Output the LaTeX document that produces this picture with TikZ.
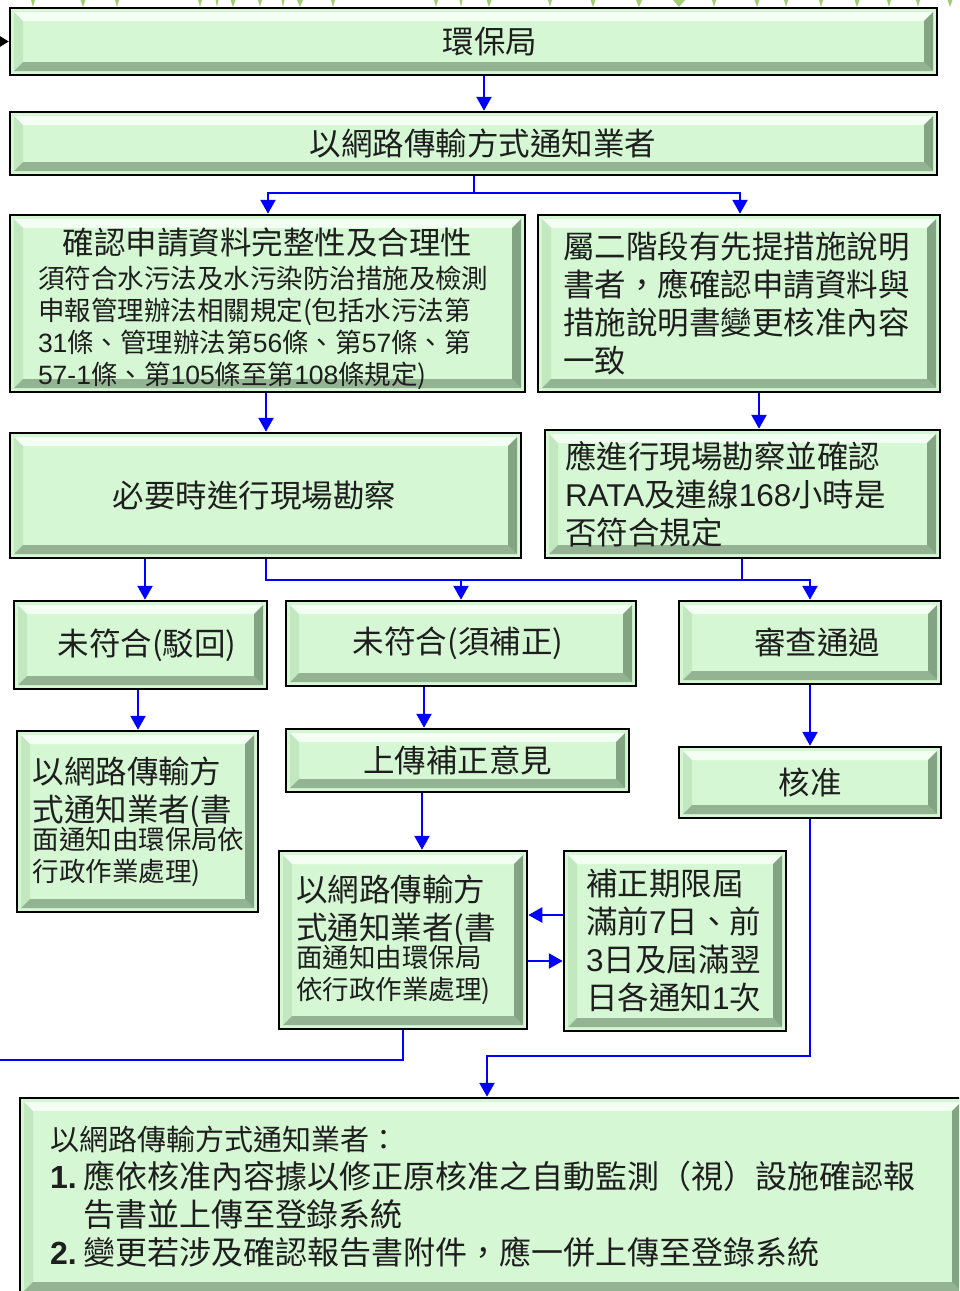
\documentclass[tikz,border=0pt]{standalone}
\usepackage{fontspec}
\setmainfont{Noto Sans CJK TC}
\newfontfamily\latf{Liberation Sans}
\usetikzlibrary{arrows.meta,calc}
\definecolor{faceg}{HTML}{D5F7D3}
\definecolor{topg}{HTML}{F2FFF2}
\definecolor{leftg}{HTML}{C2E8C0}
\definecolor{botg}{HTML}{93B393}
\definecolor{rightg}{HTML}{82A482}
\definecolor{lineb}{HTML}{0000FF}
\definecolor{txt}{HTML}{1E1E1E}
\definecolor{grass}{HTML}{8CC152}
\newcommand\numf[1]{{\latf #1}}
\newcommand\smf{\fontsize{26.5}{32}\selectfont}
\tikzset{
  bev/.style={draw=black, line width=2.5pt, fill=faceg, inner sep=0pt, text=txt,
    font=\fontsize{31.5}{38}\selectfont,
    path picture={
      \fill[topg] ([xshift=4pt,yshift=-4pt]path picture bounding box.north west) -- ([xshift=-4pt,yshift=-4pt]path picture bounding box.north east) -- ([xshift=-13pt,yshift=-13pt]path picture bounding box.north east) -- ([xshift=13pt,yshift=-13pt]path picture bounding box.north west) -- cycle;
      \fill[leftg] ([xshift=4pt,yshift=-4pt]path picture bounding box.north west) -- ([xshift=13pt,yshift=-13pt]path picture bounding box.north west) -- ([xshift=13pt,yshift=13pt]path picture bounding box.south west) -- ([xshift=4pt,yshift=4pt]path picture bounding box.south west) -- cycle;
      \fill[botg] ([xshift=4pt,yshift=4pt]path picture bounding box.south west) -- ([xshift=-4pt,yshift=4pt]path picture bounding box.south east) -- ([xshift=-13pt,yshift=13pt]path picture bounding box.south east) -- ([xshift=13pt,yshift=13pt]path picture bounding box.south west) -- cycle;
      \fill[rightg] ([xshift=-4pt,yshift=-4pt]path picture bounding box.north east) -- ([xshift=-4pt,yshift=4pt]path picture bounding box.south east) -- ([xshift=-13pt,yshift=13pt]path picture bounding box.south east) -- ([xshift=-13pt,yshift=-13pt]path picture bounding box.north east) -- cycle;
    }},
  wire/.style={draw=lineb, line width=2.5pt},
  conn/.style={wire, -{Triangle[width=15pt,length=14pt]}},
  blk/.style={draw=black, line width=2pt, -{Triangle[width=13pt,length=11pt]}},
  spike/.style={fill=grass, opacity=0.8}
}
\begin{document}
\begin{tikzpicture}[x=1pt,y=-1pt]
\useasboundingbox (0,0) rectangle (959,1291);
\clip (0,0) rectangle (959,1291);
\fill[white] (0,0) rectangle (959,1291);
% grass at the top edge
\foreach \gx/\gw in {33/4,83/5,117/4,200/4,217/3,233/5,260/4,283/3,300/6,333/4,436/4,461/3,489/5,550/4,593/5,639/6,679/12,714/4,757/5,786/4,821/4,857/5,889/4,918/4,950/5}
  \fill[spike] (\gx-\gw/2,0) -- (\gx+\gw/2,0) -- (\gx,7) -- cycle;

% boxes
\node[bev, minimum width=927pt, minimum height=67pt] (n1) at (473.5,41.5) {\hspace*{33pt}環保局};
\node[bev, minimum width=927pt, minimum height=63pt] (n2) at (473.5,143.5) {\hspace*{19pt}以網路傳輸方式通知業者};
\node[bev, minimum width=515pt, minimum height=177pt, text width=459pt, align=left, font=\smf] (n3) at (267.5,303.5)
  {\makebox[459pt][c]{\fontsize{31.5}{32}\selectfont\rule{0pt}{38pt}確認申請資料完整性及合理性}\\[2pt]
   須符合水污法及水污染防治措施及檢測\\
   申報管理辦法相關規定(包括水污法第\\
   \numf{31}條、管理辦法第\numf{56}條、第\numf{57}條、第\\
   \numf{57-1}條、第\numf{105}條至第\numf{108}條規定)};
\node[bev, minimum width=402pt, minimum height=177pt, text width=352pt, align=left] (n4) at (739,303.5)
  {屬二階段有先提措施說明\\書者，應確認申請資料與\\措施說明書變更核准內容\\一致};
\node[bev, minimum width=511pt, minimum height=125pt] (n5) at (265.5,495.5) {必要時進行現場勘察\hspace*{22pt}};
\node[bev, minimum width=395pt, minimum height=128pt, text width=355pt, align=left] (n6) at (742.5,494)
  {應進行現場勘察並確認\\\numf{RATA}及連線\numf{168}小時是\\否符合規定};
\node[bev, minimum width=253pt, minimum height=88pt] (n7) at (140.5,645) {\hspace*{13pt}未符合(駁回)};
\node[bev, minimum width=350pt, minimum height=85pt] (n8) at (461,643.5) {未符合(須補正)\hspace*{6pt}};
\node[bev, minimum width=262pt, minimum height=83pt] (n9) at (810,642.5) {\hspace*{14pt}審查通過};
\node[bev, minimum width=241pt, minimum height=181pt, text width=210pt, align=left] (n10) at (137.5,821.5)
  {以網路傳輸方\\式通知業者(書\\[-4pt]{\smf 面通知由環保局依\\[-6pt]行政作業處理)}};
\node[bev, minimum width=343pt, minimum height=63pt] (n11) at (457.5,760.5) {上傳補正意見};
\node[bev, minimum width=262pt, minimum height=71pt] (n12) at (810,782.5) {核准};
\node[bev, minimum width=248pt, minimum height=178pt, text width=214pt, align=left] (n13) at (403,940)
  {以網路傳輸方\\式通知業者(書\\[-4pt]{\smf 面通知由環保局\\[-6pt]依行政作業處理)}};
\node[bev, minimum width=222pt, minimum height=180pt, text width=178pt, align=left] (n14) at (675,941)
  {補正期限屆\\滿前\numf{7}日、前\\\numf{3}日及屆滿翌\\日各通知\numf{1}次};
\node[bev, minimum width=945pt, minimum height=197pt, text width=885pt, align=left, font=\fontsize{32}{38}\selectfont] (n15) at (492.5,1196.5)
  {{\fontsize{29}{38}\selectfont 以網路傳輸方式通知業者：}\\
   \numf{\bfseries 1.}\hspace{7pt}應依核准內容據以修正原核准之自動監測（視）設施確認報\\
   \hspace*{33pt}告書並上傳至登錄系統\\
   \numf{\bfseries 2.}\hspace{7pt}變更若涉及確認報告書附件，應一併上傳至登錄系統};

% helper coordinates
\coordinate (lin) at (-20,41.5);
\coordinate (k484) at (484,0);
\coordinate (j1) at (474,193);
\coordinate (k268) at (268,0);
\coordinate (k740) at (740,0);
\coordinate (k266) at (266,0);
\coordinate (k759) at (759,0);
\coordinate (k145) at (145,0);
\coordinate (j2) at (266,580);
\coordinate (k461) at (461,0);
\coordinate (k810) at (810,0);
\coordinate (k742) at (742,0);
\coordinate (k138) at (138,0);
\coordinate (k424) at (424,0);
\coordinate (k422) at (422,0);
\coordinate (y915) at (0,915);
\coordinate (y961) at (0,961);
\coordinate (out2) at (-20,1060);
\coordinate (j3) at (487,1056);

% connectors
\draw[blk] (lin) -- (n1.west);
\draw[conn] (n1.south -| k484) -- (n2.north -| k484);
\draw[wire] (n2.south -| j1) -- (j1);
\draw[conn] (j1) -| (n3.north -| k268);
\draw[conn] (j1) -| (n4.north -| k740);
\draw[conn] (n3.south -| k266) -- (n5.north -| k266);
\draw[conn] (n4.south -| k759) -- (n6.north -| k759);
\draw[conn] (n5.south -| k145) -- (n7.north -| k145);
\draw[conn] (n5.south -| j2) -- (j2) -| (n9.north -| k810);
\draw[conn] (j2 -| k461) -- (n8.north -| k461);
\draw[wire] (n6.south -| k742) -- (j2 -| k742);
\draw[conn] (n7.south -| k138) -- (n10.north -| k138);
\draw[conn] (n8.south -| k424) -- (n11.north -| k424);
\draw[conn] (n11.south -| k422) -- (n13.north -| k422);
\draw[conn] (n9.south -| k810) -- (n12.north -| k810);
\draw[conn] (n14.west |- y915) -- (n13.east |- y915);
\draw[conn] (n13.east |- y961) -- (n14.west |- y961);
\draw[wire] (n13.south) |- (out2);
\draw[conn] (n12.south) |- (j3) -- (n15.north -| j3);
\end{tikzpicture}
\end{document}
